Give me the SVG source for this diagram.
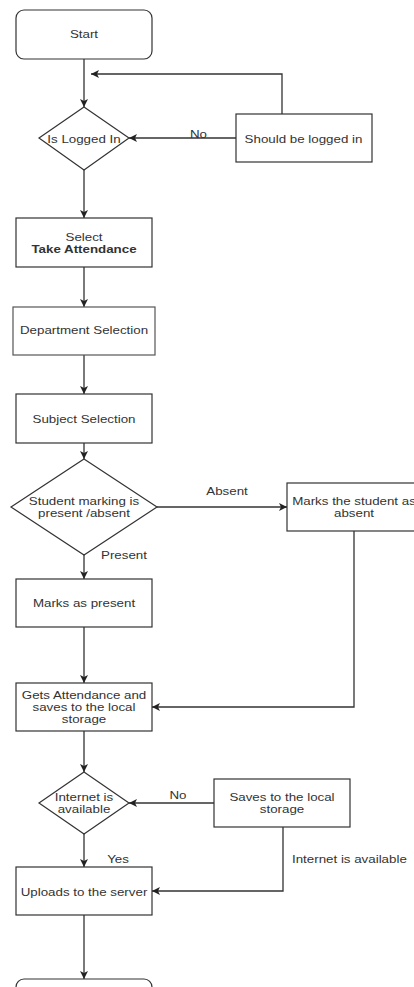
<svg xmlns="http://www.w3.org/2000/svg" width="414" height="987" viewBox="0 0 414 987">
<style>
.bg{fill:#ffffff}
.box{fill:#ffffff;stroke:#333333;stroke-width:1.2}
.t{font-family:"Liberation Sans",Arial,sans-serif;font-size:11.5px;fill:#333333;text-anchor:middle}
.tl{font-family:"Liberation Sans",Arial,sans-serif;font-size:11.5px;fill:#333333;text-anchor:start}
.b{font-weight:bold}
.c{fill:none;stroke:#333333;stroke-width:1.3}
</style>
<defs>
<marker id="arr" markerUnits="userSpaceOnUse" markerWidth="9" markerHeight="8" refX="8" refY="4" orient="auto">
<path d="M0,0 L8,4 L0,8 L2,4 z" fill="#222222"/>
</marker>
</defs>
<rect class="bg" x="0" y="0" width="414" height="987"/>
<g id="connectors">
<path class="c" d="M84,59 V107" marker-end="url(#arr)"/>
<path class="c" d="M282,114 V74 H91" marker-end="url(#arr)"/>
<path class="c" d="M236,138 H129" marker-end="url(#arr)"/>
<path class="c" d="M84,170 V218" marker-end="url(#arr)"/>
<path class="c" d="M84,267 V307" marker-end="url(#arr)"/>
<path class="c" d="M84,355 V394" marker-end="url(#arr)"/>
<path class="c" d="M84,443 V459" marker-end="url(#arr)"/>
<path class="c" d="M157,507 H287" marker-end="url(#arr)"/>
<path class="c" d="M84,555 V579" marker-end="url(#arr)"/>
<path class="c" d="M84,627 V683" marker-end="url(#arr)"/>
<path class="c" d="M354,531 V707 H152" marker-end="url(#arr)"/>
<path class="c" d="M84,731 V772" marker-end="url(#arr)"/>
<path class="c" d="M214,803 H129" marker-end="url(#arr)"/>
<path class="c" d="M84,834 V867" marker-end="url(#arr)"/>
<path class="c" d="M283,827 V891 H152" marker-end="url(#arr)"/>
<path class="c" d="M84,915 V979" marker-end="url(#arr)"/>
<text class="t" transform="translate(198.5 137.7) scale(1.16 1)">No</text>
<text class="t" transform="translate(227 495) scale(1.16 1)">Absent</text>
<text class="t" transform="translate(124 559.3) scale(1.16 1)">Present</text>
<text class="t" transform="translate(178 799) scale(1.16 1)">No</text>
<text class="t" transform="translate(118 863.3) scale(1.16 1)">Yes</text>
<text class="tl" transform="translate(292 863.3) scale(1.16 1)">Internet is available</text>
</g>
<g id="start">
<rect class="box" x="16" y="10" width="136" height="49" rx="8" ry="8"/>
<text class="t" transform="translate(84 38.3) scale(1.16 1)">Start</text>
</g>
<g id="is-logged-in">
<path class="box" d="M84,107 L129,138 L84,170 L39,138 Z"/>
<text class="t" transform="translate(84 142.6) scale(1.16 1)">Is Logged In</text>
</g>
<g id="should-be-logged-in">
<rect class="box" x="236" y="114" width="136" height="48"/>
<text class="t" transform="translate(303.5 142.6) scale(1.16 1)">Should be logged in</text>
</g>
<g id="select-take-attendance">
<rect class="box" x="16" y="218" width="136" height="49"/>
<text class="t" transform="translate(84 240.5) scale(1.16 1)">Select</text>
<text class="t b" transform="translate(84 252.5) scale(1.16 1)">Take Attendance</text>
</g>
<g id="department-selection">
<rect class="box" x="13" y="307" width="142" height="48" style="stroke:#555555"/>
<text class="t" transform="translate(84 334.3) scale(1.16 1)">Department Selection</text>
</g>
<g id="subject-selection">
<rect class="box" x="16" y="394" width="136" height="49"/>
<text class="t" transform="translate(84 423) scale(1.16 1)">Subject Selection</text>
</g>
<g id="student-marking">
<path class="box" d="M84,459 L157,507 L84,555 L11,507 Z"/>
<text class="t" transform="translate(84 505) scale(1.16 1)">Student marking is</text>
<text class="t" transform="translate(84 517) scale(1.16 1)">present /absent</text>
</g>
<g id="marks-absent">
<rect class="box" x="287" y="483" width="134" height="48"/>
<text class="t" transform="translate(354 505) scale(1.16 1)">Marks the student as</text>
<text class="t" transform="translate(354 517) scale(1.16 1)">absent</text>
</g>
<g id="marks-present">
<rect class="box" x="16" y="579" width="136" height="48"/>
<text class="t" transform="translate(84 607) scale(1.16 1)">Marks as present</text>
</g>
<g id="gets-attendance">
<rect class="box" x="16" y="683" width="136" height="48"/>
<text class="t" transform="translate(84 699) scale(1.16 1)">Gets Attendance and</text>
<text class="t" transform="translate(84 711) scale(1.16 1)">saves to the local</text>
<text class="t" transform="translate(84 723) scale(1.16 1)">storage</text>
</g>
<g id="internet-available">
<path class="box" d="M84,772 L129,803 L84,834 L39,803 Z"/>
<text class="t" transform="translate(84 801) scale(1.16 1)">Internet is</text>
<text class="t" transform="translate(84 813) scale(1.16 1)">available</text>
</g>
<g id="saves-local">
<rect class="box" x="214" y="779" width="136" height="48"/>
<text class="t" transform="translate(282 801) scale(1.16 1)">Saves to the local</text>
<text class="t" transform="translate(282 813) scale(1.16 1)">storage</text>
</g>
<g id="uploads">
<rect class="box" x="16" y="867" width="136" height="48"/>
<text class="t" transform="translate(84 895.7) scale(1.16 1)">Uploads to the server</text>
</g>
<g id="end">
<rect class="box" x="16" y="979" width="136" height="49" rx="8" ry="8"/>
</g>
</svg>
